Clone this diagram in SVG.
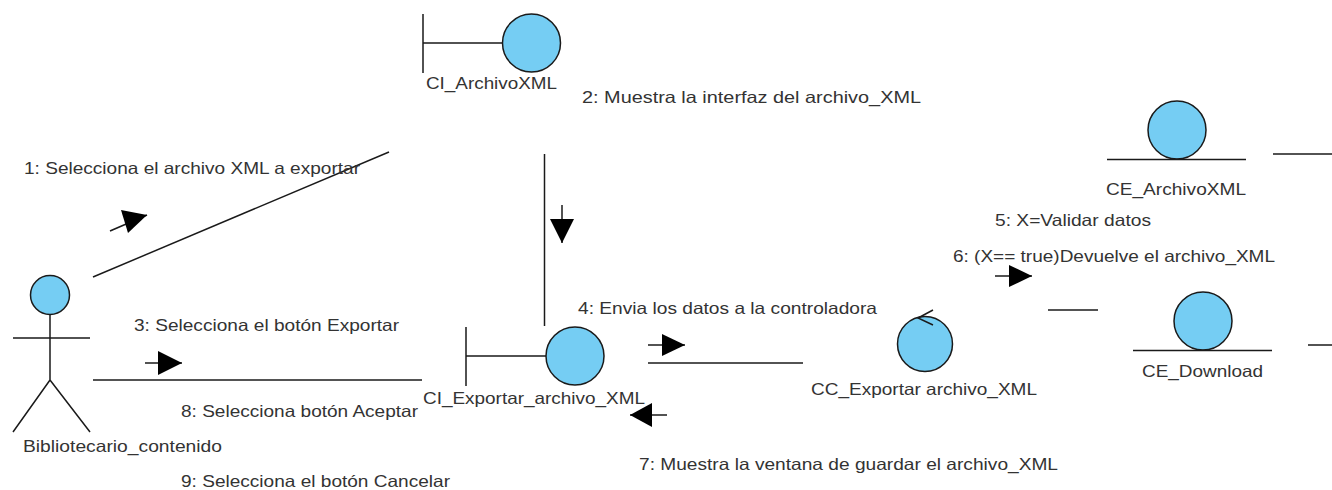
<svg xmlns="http://www.w3.org/2000/svg" width="1332" height="490" viewBox="0 0 1332 490">
<style>
.l{fill:none;stroke:#1a1a1a;stroke-width:1.5}
.c{fill:#75cdf3;stroke:#1a1a1a;stroke-width:1.5}
.a{fill:#000;stroke:none}
text{font-family:"Liberation Sans",Arial,sans-serif;font-size:16.500px;fill:#333}
</style>
<rect width="1332" height="490" fill="#fff"/>
<g id="connectors">
<path class="l" d="M93 277L389 152"/>
<path class="l" d="M110 231L147 215"/><polygon class="a" points="147,215 121,210 128,233"/>
<path class="l" d="M93 380H422"/>
<path class="l" d="M145 363H182"/><polygon class="a" points="182,363 158,351 158,375"/>
<path class="l" d="M544.500 154V326"/>
<path class="l" d="M562 205V243"/><polygon class="a" points="562,243 550,219 574,219"/>
<path class="l" d="M648 363H803"/>
<path class="l" d="M648 345H685"/><polygon class="a" points="685,345 662,334 662,356"/>
<path class="l" d="M667 415H630"/><polygon class="a" points="630,415 652,403 652,427"/>
<path class="l" d="M1048 310H1098"/>
<path class="l" d="M995 276H1032"/><polygon class="a" points="1032,276 1009,265 1009,287"/>
<path class="l" d="M1273 154H1332"/>
<path class="l" d="M1308 345H1332"/>
</g>
<g id="actor">
<circle class="c" cx="50" cy="295" r="19.500"/>
<path class="l" d="M50 315V380M13 338H90M50 380L13 432M50 380L90 432"/>
<text x="23" y="452" textLength="199" lengthAdjust="spacingAndGlyphs">Bibliotecario_contenido</text>
</g>
<g id="ci-archivo">
<path class="l" d="M423 14V73M423 43H502"/>
<circle class="c" cx="531.500" cy="43" r="29"/>
<text x="426" y="89" textLength="131" lengthAdjust="spacingAndGlyphs">CI_ArchivoXML</text>
</g>
<g id="ci-exportar">
<path class="l" d="M466 327V386M466 356H546"/>
<circle class="c" cx="575" cy="356" r="29"/>
<text x="423" y="404" textLength="222" lengthAdjust="spacingAndGlyphs">CI_Exportar_archivo_XML</text>
</g>
<g id="cc-exportar">
<circle class="c" cx="925" cy="344" r="27.500"/>
<path class="l" d="M933 310L918 318L933 325"/>
<text x="811" y="395" textLength="226" lengthAdjust="spacingAndGlyphs">CC_Exportar archivo_XML</text>
</g>
<g id="ce-archivo">
<circle class="c" cx="1177" cy="130" r="29"/>
<path class="l" d="M1107 159.500H1246"/>
<text x="1106" y="195" textLength="140" lengthAdjust="spacingAndGlyphs">CE_ArchivoXML</text>
</g>
<g id="ce-download">
<circle class="c" cx="1203" cy="321" r="29"/>
<path class="l" d="M1133 350.500H1272"/>
<text x="1142" y="377" textLength="121" lengthAdjust="spacingAndGlyphs">CE_Download</text>
</g>
<g id="labels">
<text x="24" y="174" textLength="336" lengthAdjust="spacingAndGlyphs">1: Selecciona el archivo XML a exportar</text>
<text x="582" y="103" textLength="339" lengthAdjust="spacingAndGlyphs">2: Muestra la interfaz del archivo_XML</text>
<text x="134" y="331" textLength="265" lengthAdjust="spacingAndGlyphs">3: Selecciona el botón Exportar</text>
<text x="578" y="314" textLength="299" lengthAdjust="spacingAndGlyphs">4: Envia los datos a la controladora</text>
<text x="995" y="226" textLength="156" lengthAdjust="spacingAndGlyphs">5: X=Validar datos</text>
<text x="953" y="262" textLength="322" lengthAdjust="spacingAndGlyphs">6: (X== true)Devuelve el archivo_XML</text>
<text x="639" y="470" textLength="419" lengthAdjust="spacingAndGlyphs">7: Muestra la ventana de guardar el archivo_XML</text>
<text x="181" y="417" textLength="237" lengthAdjust="spacingAndGlyphs">8: Selecciona botón Aceptar</text>
<text x="181" y="487" textLength="269" lengthAdjust="spacingAndGlyphs">9: Selecciona el botón Cancelar</text>
</g>
</svg>
